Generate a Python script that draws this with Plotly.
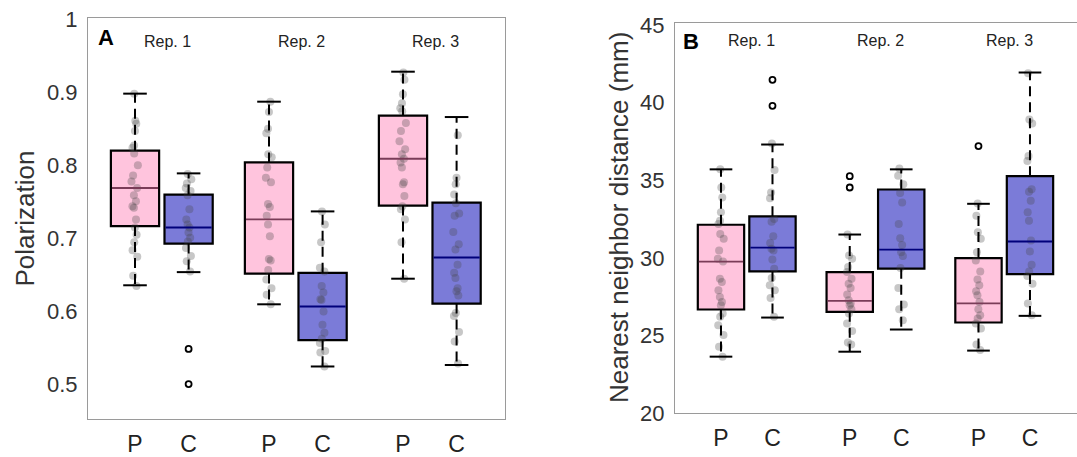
import plotly.graph_objects as go

W, H = 1077, 457
FONT = "Liberation Sans, Arial, Helvetica, sans-serif"

# ---------------- categories / positions ----------------
P_POS = [0, 2.5, 5]
C_POS = [1, 3.5, 6]
REP_LABELS = ["Rep. 1", "Rep. 2", "Rep. 3"]
XTICK_VALS = [0, 1, 2.5, 3.5, 5, 6]
XTICK_TEXT = ["P", "C", "P", "C", "P", "C"]

A_YTICKS = [0.5, 0.6, 0.7, 0.8, 0.9, 1.0]
A_YTICK_TEXT = ["0.5", "0.6", "0.7", "0.8", "0.9", "1"]
B_YTICKS = [20, 25, 30, 35, 40, 45]
B_YTICK_TEXT = ["20", "25", "30", "35", "40", "45"]

# ---------------- Panel A: Polarization ----------------
A_P_q1 = [0.717, 0.652, 0.745]
A_P_med = [0.769, 0.726, 0.809]
A_P_q3 = [0.820, 0.804, 0.868]
A_P_lo = [0.636, 0.610, 0.645]
A_P_hi = [0.898, 0.887, 0.928]
A_P_out = [[], [], []]

A_C_q1 = [0.693, 0.561, 0.611]
A_C_med = [0.715, 0.607, 0.674]
A_C_q3 = [0.760, 0.653, 0.749]
A_C_lo = [0.654, 0.525, 0.527]
A_C_hi = [0.789, 0.737, 0.866]
A_C_out = [[0.549, 0.501], [], []]

A_P_pts = [
    [0.898, 0.861, 0.857, 0.847, 0.827, 0.824, 0.816, 0.800, 0.786, 0.778, 0.769, 0.759,
     0.751, 0.744, 0.742, 0.726, 0.715, 0.705, 0.695, 0.684, 0.675, 0.649, 0.635],
    [0.887, 0.873, 0.850, 0.844, 0.815, 0.811, 0.797, 0.783, 0.777, 0.747, 0.743, 0.731,
     0.719, 0.703, 0.672, 0.670, 0.657, 0.644, 0.632, 0.623, 0.610],
    [0.927, 0.917, 0.897, 0.885, 0.878, 0.874, 0.858, 0.847, 0.833, 0.822, 0.815, 0.809,
     0.804, 0.797, 0.777, 0.774, 0.758, 0.744, 0.740, 0.726, 0.695, 0.645],
]
A_C_pts = [
    [0.788, 0.781, 0.775, 0.769, 0.765, 0.759, 0.740, 0.726, 0.719, 0.715, 0.708, 0.701,
     0.696, 0.687, 0.676, 0.669, 0.655],
    [0.737, 0.719, 0.695, 0.660, 0.655, 0.635, 0.626, 0.617, 0.616, 0.600, 0.582, 0.571,
     0.563, 0.557, 0.546, 0.544, 0.525],
    [0.841, 0.783, 0.774, 0.760, 0.748, 0.734, 0.731, 0.709, 0.692, 0.685, 0.664, 0.653,
     0.646, 0.632, 0.628, 0.622, 0.598, 0.594, 0.572, 0.559, 0.529],
]

# ---------------- Panel B: Nearest neighbor distance ----------------
B_P_q1 = [26.67, 26.52, 25.83]
B_P_med = [29.76, 27.22, 27.07]
B_P_q3 = [32.13, 29.08, 29.98]
B_P_lo = [23.63, 23.95, 24.02]
B_P_hi = [35.70, 31.50, 33.48]
B_P_out = [[], [35.26, 34.53], [37.20]]

B_C_q1 = [29.12, 29.30, 28.95]
B_C_med = [30.66, 30.53, 31.05]
B_C_q3 = [32.67, 34.40, 35.26]
B_C_lo = [26.15, 25.38, 26.26]
B_C_hi = [37.30, 35.70, 41.94]
B_C_out = [[41.47, 39.79], [], []]

B_P_pts = [
    [35.71, 34.53, 33.89, 32.93, 32.39, 32.18, 31.54, 31.22, 30.47, 29.94, 29.76, 28.65,
     28.44, 27.91, 27.48, 27.16, 26.94, 26.41, 26.20, 25.66, 25.02, 24.27, 23.63],
    [31.50, 30.15, 29.94, 29.40, 29.08, 28.65, 28.33, 28.06, 27.63, 27.26, 27.05, 26.94,
     26.69, 26.41, 25.77, 25.28, 24.55, 24.42],
    [33.50, 32.71, 31.65, 31.22, 30.36, 29.83, 29.12, 28.61, 28.23, 27.84, 27.59, 27.16,
     26.69, 26.30, 26.09, 25.77, 25.45, 24.42, 24.06],
]
B_C_pts = [
    [37.37, 35.66, 34.21, 33.83, 32.50, 32.33, 31.39, 30.96, 30.58, 30.47, 29.89, 29.29,
     28.70, 28.23, 27.91, 27.41, 26.20],
    [35.75, 35.28, 34.74, 34.17, 33.57, 32.18, 31.26, 30.83, 30.36, 30.11, 29.34, 28.06,
     26.99, 26.69, 25.98],
    [41.90, 38.91, 38.65, 36.56, 36.24, 34.42, 34.25, 33.67, 32.93, 32.39, 31.11, 30.41,
     29.55, 29.12, 28.83, 28.33, 27.05, 26.30],
]

# ---------------- styles ----------------
P_FILL = "#ffc4dd"
C_FILL = "#7b7bd8"
P_MED = "#7a3c58"
C_MED = "#00007a"
PT_COLOR = "rgba(70,70,70,0.30)"
BOX_W = 0.9
CAP_HALF = 0.22

fig = go.Figure()


def add_group(xa, ya, pos, q1, med, q3, lo, hi, out, pts, fill, medcol):
    fig.add_trace(go.Bar(
        x=pos, base=q1, y=[b - a for a, b in zip(q1, q3)], width=BOX_W,
        marker=dict(color=fill, line=dict(color="black", width=2.2)),
        xaxis=xa, yaxis=ya, showlegend=False, hoverinfo="skip"))
    wx, wy, cx, cy, mx, my = [], [], [], [], [], []
    for p, a, m, b, l, h in zip(pos, q1, med, q3, lo, hi):
        wx += [p, p, None, p, p, None]
        wy += [b, h, None, a, l, None]
        cx += [p - CAP_HALF, p + CAP_HALF, None, p - CAP_HALF, p + CAP_HALF, None]
        cy += [h, h, None, l, l, None]
        mx += [p - BOX_W / 2 + 0.02, p + BOX_W / 2 - 0.02, None]
        my += [m, m, None]
    fig.add_trace(go.Scatter(x=wx, y=wy, mode="lines",
                             line=dict(color="black", width=2, dash="10px,6px"),
                             xaxis=xa, yaxis=ya, showlegend=False, hoverinfo="skip"))
    fig.add_trace(go.Scatter(x=cx, y=cy, mode="lines",
                             line=dict(color="black", width=2),
                             xaxis=xa, yaxis=ya, showlegend=False, hoverinfo="skip"))
    for p, vals in zip(pos, pts):
        fig.add_trace(go.Box(
            y=vals, x0=p, width=BOX_W, boxpoints="all", jitter=0.15, pointpos=0,
            fillcolor="rgba(0,0,0,0)", line=dict(width=0, color="rgba(0,0,0,0)"),
            whiskerwidth=0,
            marker=dict(size=8, color=PT_COLOR, line=dict(width=0)),
            xaxis=xa, yaxis=ya, showlegend=False, hoverinfo="y"))
    fig.add_trace(go.Scatter(x=mx, y=my, mode="lines",
                             line=dict(color=medcol, width=1.8),
                             xaxis=xa, yaxis=ya, showlegend=False, hoverinfo="skip"))
    ox, oy = [], []
    for p, vals in zip(pos, out):
        for v in vals:
            ox.append(p)
            oy.append(v)
    if ox:
        fig.add_trace(go.Scatter(x=ox, y=oy, mode="markers",
                                 marker=dict(symbol="circle-open", size=6, color="black",
                                             line=dict(width=1.8, color="black")),
                                 xaxis=xa, yaxis=ya, showlegend=False))


add_group("x", "y", P_POS, A_P_q1, A_P_med, A_P_q3, A_P_lo, A_P_hi, A_P_out, A_P_pts, P_FILL, P_MED)
add_group("x", "y", C_POS, A_C_q1, A_C_med, A_C_q3, A_C_lo, A_C_hi, A_C_out, A_C_pts, C_FILL, C_MED)
add_group("x2", "y2", P_POS, B_P_q1, B_P_med, B_P_q3, B_P_lo, B_P_hi, B_P_out, B_P_pts, P_FILL, P_MED)
add_group("x2", "y2", C_POS, B_C_q1, B_C_med, B_C_q3, B_C_lo, B_C_hi, B_C_out, B_C_pts, C_FILL, C_MED)


def px_x(p):
    return p / W


def px_y(p):
    return 1 - p / H


FRAME = "#9a9a9a"
xcommon = dict(showgrid=False, zeroline=False, showline=True, linecolor=FRAME, linewidth=1,
               tickvals=XTICK_VALS, ticktext=XTICK_TEXT, ticks="", automargin=False,
               tickfont=dict(size=23, color="#222", family=FONT), ticklabelstandoff=4)
ycommon = dict(showgrid=False, zeroline=False, showline=True, linecolor=FRAME, linewidth=1,
               ticks="", automargin=False,
               tickfont=dict(size=22, color="#333", family=FONT), ticklabelstandoff=5)

fig.update_layout(
    width=W, height=H,
    margin=dict(l=0, r=0, t=0, b=0, autoexpand=False),
    paper_bgcolor="white", plot_bgcolor="white",
    barmode="overlay", boxmode="overlay",
    showlegend=False,
    font=dict(family=FONT),
    xaxis=dict(domain=[px_x(88), px_x(505)], range=[-0.877, 6.903], mirror=True, anchor="y", **xcommon),
    yaxis=dict(domain=[px_y(419), px_y(18)], range=[0.4532, 1.0014], mirror=True, anchor="x",
               tickvals=A_YTICKS, ticktext=A_YTICK_TEXT, **ycommon),
    xaxis2=dict(domain=[px_x(675), 1.0], range=[-0.893, 6.913], mirror=True, anchor="y2", **xcommon),
    yaxis2=dict(domain=[px_y(413), px_y(23)], range=[20, 45.13], mirror=False, anchor="x2",
                tickvals=B_YTICKS, ticktext=B_YTICK_TEXT, **ycommon),
)

annotations = []
# panel letters
annotations.append(dict(text="<b>A</b>", x=px_x(106), y=px_y(38), xref="paper", yref="paper",
                        xanchor="center", yanchor="middle",
                        showarrow=False, font=dict(size=22, color="black", family=FONT)))
annotations.append(dict(text="<b>B</b>", x=px_x(691), y=px_y(42), xref="paper", yref="paper",
                        xanchor="center", yanchor="middle",
                        showarrow=False, font=dict(size=22, color="black", family=FONT)))
# rep labels
for xa, yp in (("x", 42), ("x2", 41)):
    for p, c, lab in zip(P_POS, C_POS, REP_LABELS):
        annotations.append(dict(text=lab, x=(p + c) / 2 + 0.1, y=px_y(yp), xref=xa, yref="paper",
                                xanchor="center", yanchor="middle",
                                showarrow=False, font=dict(size=16, color="#222", family=FONT)))
# y axis titles
annotations.append(dict(text="Polarization", x=px_x(24), y=px_y(218.5), xref="paper", yref="paper",
                        textangle=-90, showarrow=False, xanchor="center", yanchor="middle",
                        font=dict(size=26, color="#333", family=FONT)))
annotations.append(dict(text="Nearest neighbor distance (mm)", x=px_x(619), y=px_y(218),
                        xref="paper", yref="paper", textangle=-90, showarrow=False,
                        xanchor="center", yanchor="middle",
                        font=dict(size=26, color="#333", family=FONT)))
fig.update_layout(annotations=annotations)

fig.write_html("out.html")
